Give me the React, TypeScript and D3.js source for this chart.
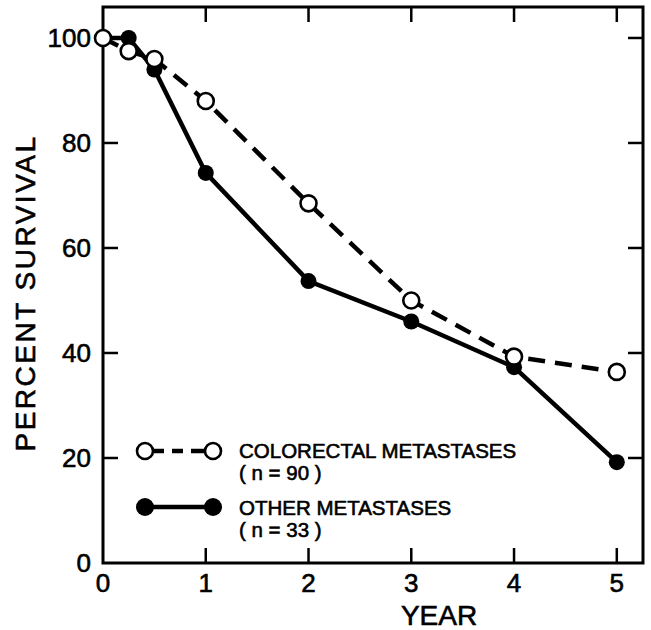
import React from "react";
import * as d3 from "d3";

const years = [0, 0.25, 0.5, 1, 2, 3, 4, 5];
const colorectal = [100, 97.5, 96, 88, 68.5, 50, 39.3, 36.4];
const other = [100, 100, 94, 74.3, 53.7, 46, 37.3, 19.2];
const xTicks = [0, 1, 2, 3, 4, 5];
const yTicks = [0, 20, 40, 60, 80, 100];
const legendLabels = ["COLORECTAL METASTASES", "OTHER METASTASES"];
const legendNs = ["( n = 90 )", "( n = 33 )"];

const W = 651, H = 630;
const L = 103, R = 643, T = 7, B = 563;

export default function App() {
  const x = d3.scaleLinear().domain([0, 5.255]).range([L, R]);
  const y = d3.scaleLinear().domain([0, 105.9]).range([B, T]);
  const line = d3.line<number>().x((_, i) => x(years[i])).y((v) => y(v));
  const font = "'Liberation Sans', Arial, Helvetica, sans-serif";
  const tick = 15;
  const r = 8;
  const txt = { fontFamily: font, fill: "#000", stroke: "#000", strokeWidth: 0.6 };
  return (
    <svg width={W} height={H} style={{ position: "absolute", left: 0, top: 0, background: "#fff" }}>
      <rect x={L} y={T} width={R - L} height={B - T} fill="none" stroke="#000" strokeWidth={3} />
      {xTicks.map((t) => (
        <g key={"x" + t}>
          {t > 0 && <line x1={x(t)} x2={x(t)} y1={B} y2={B - tick} stroke="#000" strokeWidth={2.5} />}
          {t > 0 && <line x1={x(t)} x2={x(t)} y1={T} y2={T + tick} stroke="#000" strokeWidth={2.5} />}
          <text x={x(t)} y={592} textAnchor="middle" fontSize={26} {...txt}>{t}</text>
        </g>
      ))}
      {yTicks.map((t) => (
        <g key={"y" + t}>
          {t > 0 && <line x1={L} x2={L + tick} y1={y(t)} y2={y(t)} stroke="#000" strokeWidth={2.5} />}
          {t > 0 && <line x1={R} x2={R - tick} y1={y(t)} y2={y(t)} stroke="#000" strokeWidth={2.5} />}
          <text x={91} y={y(t) + 9} textAnchor="end" fontSize={26} {...txt}>{t}</text>
        </g>
      ))}
      <text x={439} y={625} textAnchor="middle" fontSize={28} {...txt}>YEAR</text>
      <text transform={`translate(35,293) rotate(-90)`} textAnchor="middle" fontSize={28} letterSpacing={2.5} {...txt}>PERCENT SURVIVAL</text>

      <path d={line(colorectal) || ""} fill="none" stroke="#000" strokeWidth={4.5} strokeDasharray="17 10" />
      <path d={line(other) || ""} fill="none" stroke="#000" strokeWidth={4.5} />
      {other.map((v, i) => (
        <circle key={"o" + i} cx={x(years[i])} cy={y(v)} r={r} fill="#000" />
      ))}
      {colorectal.map((v, i) => (
        <circle key={"c" + i} cx={x(years[i])} cy={y(v)} r={r} fill="#fff" stroke="#000" strokeWidth={2.6} />
      ))}

      {/* legend */}
      <line x1={145} x2={213} y1={451} y2={451} stroke="#000" strokeWidth={4.5} strokeDasharray="0 9 10 8 11 8 12" />
      <circle cx={145} cy={451} r={r} fill="#fff" stroke="#000" strokeWidth={2.6} />
      <circle cx={213} cy={451} r={r} fill="#fff" stroke="#000" strokeWidth={2.6} />
      <text x={239} y={458} fontSize={20.5} {...txt}>{legendLabels[0]}</text>
      <text x={239} y={480} fontSize={20.5} {...txt}>{legendNs[0]}</text>
      <line x1={145} x2={213} y1={507} y2={507} stroke="#000" strokeWidth={4.5} />
      <circle cx={145} cy={507} r={9} fill="#000" />
      <circle cx={213} cy={507} r={9} fill="#000" />
      <text x={239} y={515} fontSize={20.5} {...txt}>{legendLabels[1]}</text>
      <text x={239} y={537} fontSize={20.5} {...txt}>{legendNs[1]}</text>
    </svg>
  );
}
